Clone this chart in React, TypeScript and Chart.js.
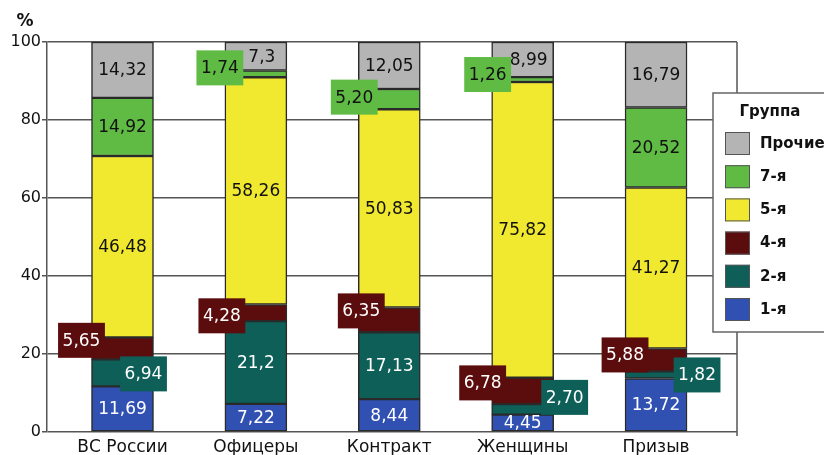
import React, { useEffect, useRef } from "react";
import { Chart, registerables } from "chart.js";

Chart.register(...registerables);

// ---- data ----
const categories = ["ВС России", "Офицеры", "Контракт", "Женщины", "Призыв"];
const seriesNames = ["1-я", "2-я", "4-я", "5-я", "7-я", "Прочие"];
const group1 = [11.69, 7.22, 8.44, 4.45, 13.72];
const group2 = [6.94, 21.2, 17.13, 2.7, 1.82];
const group4 = [5.65, 4.28, 6.35, 6.78, 5.88];
const group5 = [46.48, 58.26, 50.83, 75.82, 41.27];
const group7 = [14.92, 1.74, 5.2, 1.26, 20.52];
const others = [14.32, 7.3, 12.05, 8.99, 16.79];
const yTicks = [0, 20, 40, 60, 80, 100];
const legendTitle = "Группа";
const axisUnit = "%";

// ---- styles / layout (not data) ----
const seriesValues = [group1, group2, group4, group5, group7, others];
const seriesColors = ["#3050b2", "#0d5f58", "#5b0c0c", "#f1e92f", "#60bb45", "#b4b4b4"];
const labelTextColors = ["#ffffff", "#ffffff", "#ffffff", "#111111", "#111111", "#111111"];
const oneDecimal: Record<string, boolean> = { "1:1": true, "5:1": true };
// callout boxes: offset from bar centre / segment middle
const callouts: Record<string, [number, number]> = {
  "1:0": [21, 1],
  "2:0": [-41, -8],
  "2:1": [-34, 3],
  "4:1": [-36, -6],
  "2:2": [-28, -9],
  "4:2": [-35, -2],
  "1:3": [42, -12],
  "2:3": [-40, -8],
  "4:3": [-35, -5],
  "2:4": [-31, -5],
  "1:4": [41, 0],
};
const insideShift: Record<string, number> = { "5:1": 6, "5:3": 6 };

const FONT = "'DejaVu Sans', 'Liberation Sans', Arial, sans-serif";

function fmt(v: number, key: string) {
  return v.toFixed(oneDecimal[key] ? 1 : 2).replace(".", ",");
}

const labelPlugin = {
  id: "segLabels",
  beforeDatasetsDraw(chart: any) {
    const { ctx, chartArea } = chart;
    ctx.save();
    ctx.strokeStyle = "#555";
    ctx.lineWidth = 1.5;
    ctx.beginPath();
    ctx.moveTo(chartArea.right, chartArea.top);
    ctx.lineTo(chartArea.right, chartArea.bottom + 4);
    ctx.stroke();
    ctx.restore();
  },
  afterDatasetsDraw(chart: any) {
    const { ctx } = chart;
    ctx.save();
    ctx.font = `17px ${FONT}`;
    ctx.textAlign = "center";
    ctx.textBaseline = "middle";
    const boxes: any[] = [];
    chart.data.datasets.forEach((ds: any, i: number) => {
      const meta = chart.getDatasetMeta(i);
      meta.data.forEach((el: any, j: number) => {
        const key = `${i}:${j}`;
        const v = seriesValues[i][j];
        const text = fmt(v, key);
        const midY = (el.y + el.base) / 2;
        if (callouts[key]) {
          const [dx, dy] = callouts[key];
          boxes.push({ x: el.x + dx, y: midY + dy, text, i });
        } else {
          ctx.fillStyle = labelTextColors[i];
          ctx.fillText(text, el.x + (insideShift[key] || 0), midY + 1);
        }
      });
    });
    boxes.forEach((b) => {
      const tw = ctx.measureText(b.text).width;
      const w = tw + 9;
      const h = 35;
      ctx.fillStyle = seriesColors[b.i];
      ctx.fillRect(b.x - w / 2, b.y - h / 2, w, h);
      ctx.fillStyle = labelTextColors[b.i];
      ctx.fillText(b.text, b.x, b.y + 1);
    });
    ctx.restore();
  },
  afterDraw(chart: any) {
    const { ctx } = chart;
    ctx.save();
    // unit label
    ctx.fillStyle = "#111";
    ctx.font = `bold 17px ${FONT}`;
    ctx.textAlign = "center";
    ctx.textBaseline = "middle";
    ctx.fillText(axisUnit, 25, 22);
    // legend
    const lx = 713, ly = 93, lw = 200, lh = 239;
    ctx.fillStyle = "#ffffff";
    ctx.fillRect(lx, ly, lw, lh);
    ctx.strokeStyle = "#666";
    ctx.lineWidth = 1.5;
    ctx.strokeRect(lx, ly, lw, lh);
    ctx.fillStyle = "#111";
    ctx.font = `bold 15px ${FONT}`;
    ctx.textAlign = "center";
    ctx.fillText(legendTitle, 770, 112);
    const order = seriesNames.map((_, i) => i).reverse();
    order.forEach((si, k) => {
      const sy = 132 + k * 33.2;
      ctx.fillStyle = seriesColors[si];
      ctx.fillRect(725, sy, 25, 23);
      ctx.strokeStyle = "#555";
      ctx.lineWidth = 1;
      ctx.strokeRect(725.5, sy + 0.5, 24, 22);
      ctx.fillStyle = "#111";
      ctx.textAlign = "left";
      ctx.fillText(seriesNames[si], 760, sy + 12);
    });
    ctx.restore();
  },
};

export default function App() {
  const ref = useRef<HTMLCanvasElement | null>(null);
  useEffect(() => {
    document.body.style.margin = "0";
    const canvas = ref.current!;
    const chart = new Chart(canvas, {
      type: "bar",
      data: {
        datasets: seriesNames.map((name, i) => ({
          label: name,
          data: seriesValues[i].map((v, j) => ({ x: j, y: v })),
          backgroundColor: seriesColors[i],
          borderColor: "#2a2a2a",
          borderWidth: 1.5,
          borderSkipped: false,
          barThickness: 62,
        })),
      },
      options: {
        animation: false,
        responsive: false,
        layout: { padding: { top: 42, right: 87, left: 0, bottom: 0 } },
        plugins: {
          legend: { display: false },
          tooltip: { enabled: false },
        },
        scales: {
          x: {
            type: "linear",
            stacked: true,
            offset: false,
            min: -0.566,
            max: 4.607,
            grid: { display: false, drawTicks: false },
            border: { display: false },
            afterBuildTicks: (scale: any) => {
              scale.ticks = categories.map((_, i) => ({ value: i }));
            },
            afterFit: (scale: any) => {
              scale.height = 23;
            },
            ticks: {
              autoSkip: false,
              maxRotation: 0,
              padding: 5,
              color: "#111",
              font: { family: FONT, size: 17 },
              callback: (v: any) => categories[Math.round(Number(v))] ?? "",
            },
          },
          y: {
            stacked: true,
            min: 0,
            max: 100,
            afterBuildTicks: (scale: any) => {
              scale.ticks = yTicks.map((v) => ({ value: v }));
            },
            afterFit: (scale: any) => {
              scale.width = 47;
            },
            grid: { color: "#555", lineWidth: 1.5, tickLength: 5, drawTicks: true },
            border: { display: true, color: "#555", width: 1.5 },
            ticks: {
              padding: 1,
              color: "#111",
              font: { family: FONT, size: 16 },
            },
          },
        },
      },
      plugins: [labelPlugin],
    } as any);
    return () => chart.destroy();
  }, []);
  return (
    <div style={{ position: "fixed", left: 0, top: 0, width: 824, height: 455, background: "#fff" }}>
      <canvas ref={ref} width={824} height={455} style={{ display: "block" }} />
    </div>
  );
}
